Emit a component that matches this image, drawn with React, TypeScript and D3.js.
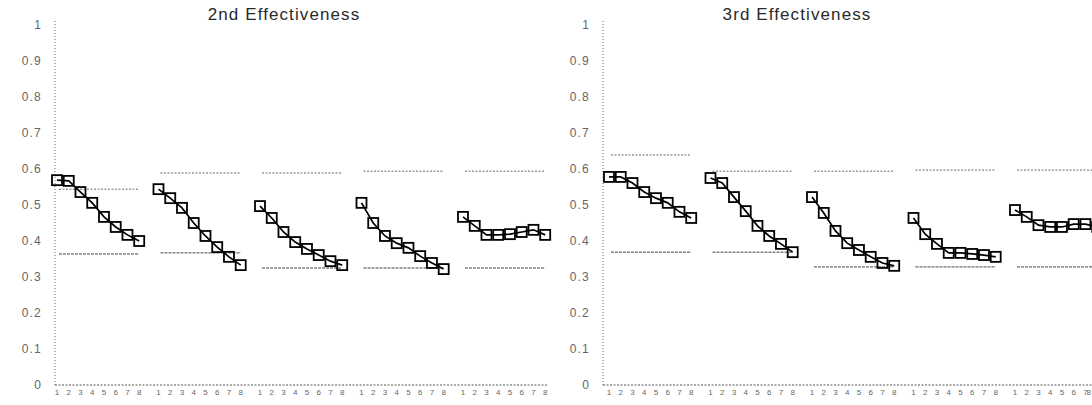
import React from "react";
import * as d3 from "d3";

const groups = ["G1", "G2", "G3", "G4", "G5"];
const lags = ["1", "2", "3", "4", "5", "6", "7", "8"];
const yTicks = [0, 0.1, 0.2, 0.3, 0.4, 0.5, 0.6, 0.7, 0.8, 0.9, 1];
const yTickLabels = ["0", "0.1", "0.2", "0.3", "0.4", "0.5", "0.6", "0.7", "0.8", "0.9", "1"];

const secondValues = [
  [0.569, 0.567, 0.536, 0.506, 0.467, 0.439, 0.417, 0.4],
  [0.544, 0.519, 0.492, 0.45, 0.414, 0.383, 0.356, 0.333],
  [0.497, 0.464, 0.425, 0.397, 0.378, 0.361, 0.344, 0.333],
  [0.506, 0.45, 0.414, 0.394, 0.381, 0.358, 0.339, 0.322],
  [0.467, 0.442, 0.417, 0.417, 0.419, 0.425, 0.431, 0.417],
];
const secondUpper = [0.544, 0.589, 0.589, 0.594, 0.594];
const secondLower = [0.364, 0.367, 0.325, 0.325, 0.325];

const thirdValues = [
  [0.578, 0.578, 0.561, 0.536, 0.519, 0.506, 0.481, 0.464],
  [0.575, 0.561, 0.522, 0.483, 0.442, 0.414, 0.392, 0.369],
  [0.522, 0.478, 0.428, 0.394, 0.375, 0.356, 0.339, 0.331],
  [0.464, 0.419, 0.392, 0.367, 0.367, 0.364, 0.361, 0.356],
  [0.486, 0.467, 0.444, 0.439, 0.439, 0.447, 0.447, 0.439],
];
const thirdUpper = [0.639, 0.594, 0.594, 0.597, 0.597];
const thirdLower = [0.369, 0.369, 0.328, 0.328, 0.328];

const panels = [
  { title: "2nd Effectiveness", axisX: 55, start: 57, end: 548, titleX: 284, values: secondValues, upper: secondUpper, lower: secondLower },
  { title: "3rd Effectiveness", axisX: 603, start: 609, end: 1092, titleX: 797, values: thirdValues, upper: thirdUpper, lower: thirdLower },
];

const W = 1092;
const y = d3.scaleLinear().domain([0, 1]).range([385, 25]);

function Panel({ p }: { p: (typeof panels)[number] }) {
  const band = d3.scaleBand<string>().domain(groups).range([p.start, p.start + 488.2]).paddingInner(0.19).paddingOuter(0);
  return (
    <g>
      <text x={p.titleX} y={20} textAnchor="middle" fontFamily="Liberation Sans, Arial, sans-serif" fontSize={17} letterSpacing={1.1} fill="#2a2a2a">
        {p.title}
      </text>
      <line x1={p.axisX} x2={p.axisX} y1={y(0)} y2={20} stroke="#666" strokeWidth={1} strokeDasharray="1,2" />
      <line x1={p.axisX} x2={p.end} y1={y(0)} y2={y(0)} stroke="#555" strokeWidth={1} strokeDasharray="2,1.5" />
      {yTicks.map((t, i) => (
        <text key={t} x={p.axisX - 13} y={y(t) + 4} textAnchor="end" fontFamily="Liberation Sans, Arial, sans-serif" fontSize={12} letterSpacing={1.2} fill="#666">
          {yTickLabels[i]}
        </text>
      ))}
      {groups.map((g, gi) => {
        const inner = d3.scalePoint<string>().domain(lags).range([band(g)!, band(g)! + band.bandwidth()]);
        const pts = p.values[gi];
        const path = d3.line<number>().x((_, i) => inner(lags[i])!).y((v) => y(v))(pts) || "";
        const x1 = band(g)! + 2;
        const x2 = band(g)! + band.bandwidth();
        return (
          <g key={g}>
            <line x1={x1} x2={x2} y1={y(p.upper[gi])} y2={y(p.upper[gi])} stroke="#666" strokeWidth={1} strokeDasharray="2,1.5" />
            <line x1={x1} x2={x2} y1={y(p.lower[gi])} y2={y(p.lower[gi])} stroke="#444" strokeWidth={1} strokeDasharray="3,1" />
            <path d={path} fill="none" stroke="#000" strokeWidth={1.7} />
            {pts.map((v, i) => (
              <rect key={i} x={inner(lags[i])! - 5} y={y(v) - 5} width={10} height={10} fill="none" stroke="#000" strokeWidth={1.8} />
            ))}
            {lags.map((l) => {
              const lx = inner(l)!;
              const over = lx > W - 4;
              return (
                <text key={l} x={over ? W - 1 : lx} y={395} textAnchor={over ? "end" : "middle"} fontFamily="Liberation Sans, Arial, sans-serif" fontSize={8} fill="#666">
                  {l}
                </text>
              );
            })}
          </g>
        );
      })}
    </g>
  );
}

export default function App() {
  return (
    <svg width={W} height={405} style={{ position: "absolute", left: 0, top: 0, background: "#fff" }}>
      <rect width={W} height={405} fill="#fff" />
      {panels.map((p) => (
        <Panel key={p.title} p={p} />
      ))}
    </svg>
  );
}
